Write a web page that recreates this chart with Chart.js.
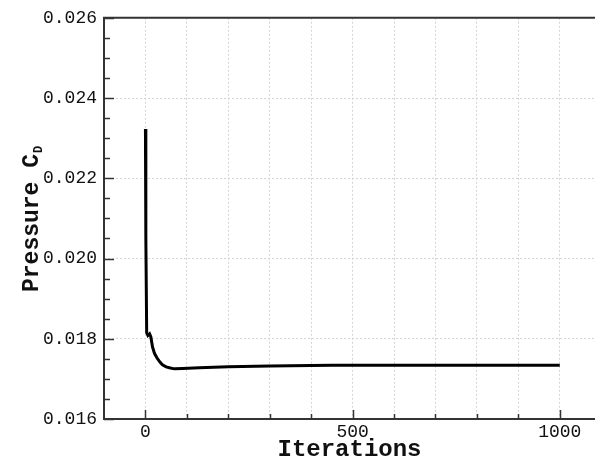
<!DOCTYPE html>
<html>
<head>
<meta charset="utf-8">
<script src="https://cdn.jsdelivr.net/npm/chart.js@4/dist/chart.umd.min.js"></script>
<style>
  html, body { margin: 0; padding: 0; background: #fff; }
  #wrap { width: 595px; height: 461px; position: relative; }
</style>
</head>
<body>
<div id="wrap"><canvas id="cdChart"></canvas></div>
<script>
// data
const iterations = [0, 1, 3, 6, 10, 13, 17, 22, 28, 35, 41, 50, 60, 70, 90, 130, 200, 300, 450, 600, 800, 1000];
const pressureCd = [0.02323, 0.0205, 0.01815, 0.01808, 0.01812, 0.01805, 0.0178, 0.01763, 0.01752, 0.01742,
  0.01735, 0.0173, 0.01727, 0.01725, 0.01726, 0.01728, 0.0173, 0.01732, 0.01734, 0.01734, 0.01734, 0.01734];

const xTicks = [0, 100, 200, 300, 400, 500, 600, 700, 800, 900, 1000];
const xLabelTicks = [0, 500, 1000];
const yTicks = [0.016, 0.018, 0.020, 0.022, 0.024, 0.026];
const yMinorStep = 0.0005;

const monoFont = '"Liberation Mono", "DejaVu Sans Mono", monospace';
const frameColor = '#333';

// frame, inward ticks and the y title with subscript
const framePlugin = {
  id: 'frame',
  afterDraw(chart) {
    const { ctx, chartArea: a, scales: { x, y } } = chart;
    ctx.save();
    ctx.strokeStyle = frameColor;
    ctx.lineWidth = 2;
    ctx.beginPath();
    ctx.moveTo(a.right + 2, a.top);
    ctx.lineTo(a.left, a.top);
    ctx.lineTo(a.left, a.bottom);
    ctx.lineTo(a.right + 2, a.bottom);
    ctx.stroke();

    // y ticks (minor every 0.0005)
    ctx.lineWidth = 1.5;
    for (let v = yTicks[0]; v <= yTicks[yTicks.length - 1] + 1e-9; v += yMinorStep) {
      const major = yTicks.some(t => Math.abs(t - v) < 1e-7);
      const py = Math.round(y.getPixelForValue(v)) + 0.5;
      ctx.beginPath();
      ctx.moveTo(a.left, py);
      ctx.lineTo(a.left + (major ? 10 : 6), py);
      ctx.stroke();
    }
    // x ticks
    xTicks.forEach(v => {
      const major = xLabelTicks.includes(v);
      const px = Math.round(x.getPixelForValue(v)) + 0.5;
      ctx.beginPath();
      ctx.moveTo(px, a.bottom);
      ctx.lineTo(px, a.bottom - (major ? 9 : 5));
      ctx.stroke();
    });

    // y axis title: Pressure C_D
    ctx.fillStyle = '#111';
    ctx.translate(38, 292);
    ctx.rotate(-Math.PI / 2);
    ctx.textBaseline = 'alphabetic';
    ctx.textAlign = 'left';
    ctx.font = 'bold 23px ' + monoFont;
    const main = 'Pressure C';
    ctx.fillText(main, 0, 0);
    const w = ctx.measureText(main).width;
    ctx.font = 'bold 12px ' + monoFont;
    ctx.fillText('D', w + 1, 4);
    ctx.restore();
  }
};

new Chart(document.getElementById('cdChart'), {
  type: 'line',
  data: {
    datasets: [{
      data: iterations.map((it, i) => ({ x: it, y: pressureCd[i] })),
      borderColor: '#000',
      borderWidth: 3,
      pointRadius: 0,
      tension: 0,
      fill: false
    }]
  },
  options: {
    responsive: true,
    maintainAspectRatio: false,
    animation: false,
    layout: { padding: { top: 13, right: 0, left: 0, bottom: 0 } },
    plugins: { legend: { display: false }, tooltip: { enabled: false } },
    scales: {
      x: {
        type: 'linear',
        min: -100,
        max: 1085,
        afterBuildTicks: s => { s.ticks = xTicks.map(v => ({ value: v })); },
        afterFit: s => { s.height = 42; },
        ticks: {
          autoSkip: false,
          maxRotation: 0,
          padding: 2,
          color: '#111',
          font: { family: monoFont, size: 18 },
          callback: v => xLabelTicks.includes(v) ? String(v) : ''
        },
        grid: { color: '#d4d4d4', lineWidth: 1, drawTicks: false },
        border: { display: false, dash: [2, 2] },
        title: {
          display: true,
          text: 'Iterations',
          color: '#111',
          padding: { top: 0, bottom: -3 },
          font: { family: monoFont, size: 24, weight: 'bold' }
        }
      },
      y: {
        type: 'linear',
        min: 0.016,
        max: 0.026,
        afterBuildTicks: s => { s.ticks = yTicks.map(v => ({ value: v })); },
        afterFit: s => { s.width = 104; },
        ticks: {
          padding: 7,
          color: '#111',
          font: { family: monoFont, size: 18 },
          callback: v => v.toFixed(3)
        },
        grid: { color: '#d4d4d4', lineWidth: 1, drawTicks: false },
        border: { display: false, dash: [2, 2] }
      }
    }
  },
  plugins: [framePlugin]
});
</script>
</body>
</html>
